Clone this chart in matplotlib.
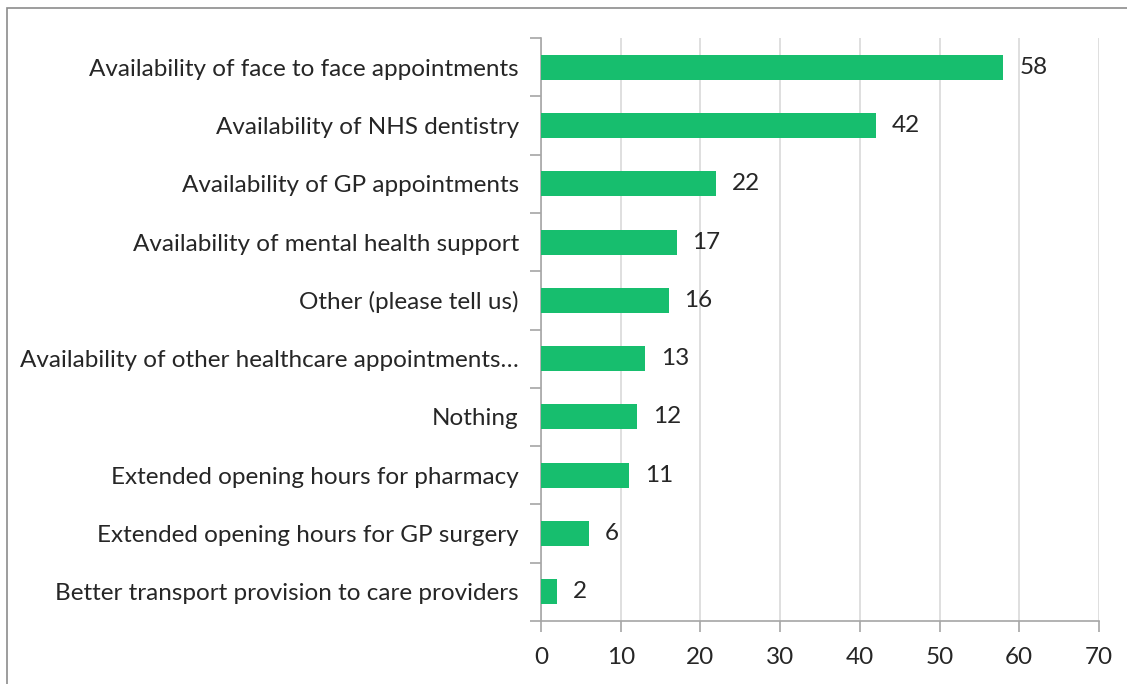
import matplotlib
matplotlib.use("Agg")
import matplotlib.pyplot as plt
from matplotlib.patches import Rectangle

# Respuestas (de arriba a abajo)
categorias = [
    "Availability of face to face appointments",
    "Availability of NHS dentistry",
    "Availability of GP appointments",
    "Availability of mental health support",
    "Other (please tell us)",
    "Availability of other healthcare appointments…",
    "Nothing",
    "Extended opening hours for pharmacy",
    "Extended opening hours for GP surgery",
    "Better transport provision to care providers",
]
valores = [58, 42, 22, 17, 16, 13, 12, 11, 6, 2]
ticks_x = [0, 10, 20, 30, 40, 50, 60, 70]

verde = "#17BE6E"
texto = "#262626"
gris = "#A6A6A6"
tam = 17.5

plt.rcParams['font.family'] = ['Lato', 'DejaVu Sans']

fig = plt.figure(figsize=(11.27, 6.84), dpi=100)
ax = fig.add_axes([541 / 1127, 1 - 621 / 684, (1099 - 541) / 1127, (621 - 38) / 684])

pos = list(range(len(categorias)))
ax.barh(pos, valores, height=0.43, color=verde, zorder=3)
for p, v in zip(pos, valores):
    ax.text(v + 2.0, p, str(v), va="center", ha="left", fontsize=tam, color=texto)

ax.set_ylim(len(categorias) - 0.5, -0.5)
ax.set_xlim(0, 70)
ax.set_xticks(ticks_x)
ax.set_yticks([i - 0.5 for i in range(len(categorias) + 1)], minor=False)
ax.set_yticklabels([])
ax.set_yticks(pos, minor=True)
ax.set_yticklabels(categorias, minor=True)
ax.tick_params(axis="y", which="minor", length=0, pad=16, labelsize=tam, labelcolor=texto)
ax.tick_params(axis="y", which="major", length=8, color=gris, width=1.2)
ax.tick_params(axis="x", length=8, color=gris, width=1.2, labelsize=tam, labelcolor=texto, pad=11)

ax.grid(axis="x", color="#D9D9D9", linewidth=1.2, zorder=0)
for s in ["top", "right"]:
    ax.spines[s].set_visible(False)
for s in ["left", "bottom"]:
    ax.spines[s].set_color(gris)
    ax.spines[s].set_linewidth(1.2)

# Marco exterior (cortado a la derecha y abajo)
marco = Rectangle((7 / 1127, -0.1), 1.2, 1.1 - 8 / 684, transform=fig.transFigure,
                  fill=False, edgecolor="#8C8C8C", linewidth=1.2, clip_on=False)
fig.patches.append(marco)

fig.savefig("out.png", dpi=100)
